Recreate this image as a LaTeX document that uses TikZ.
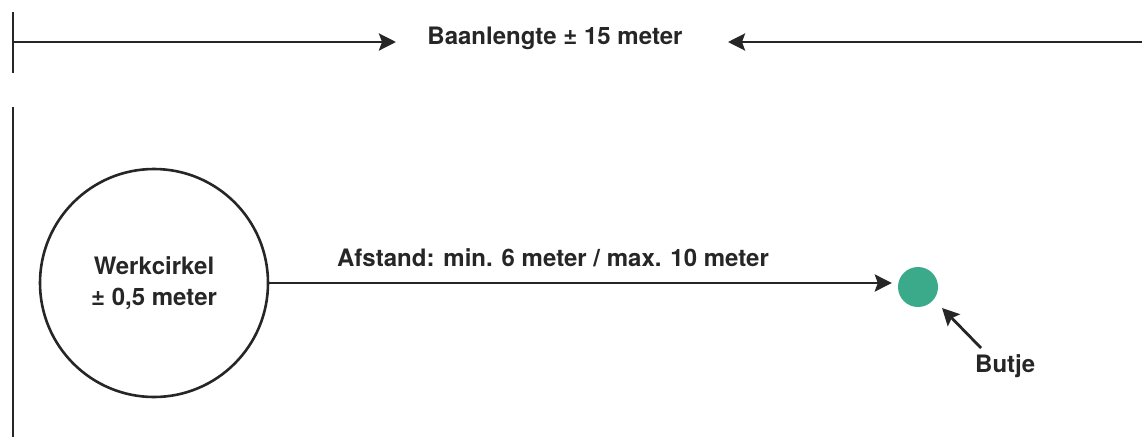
\documentclass[tikz,border=0pt]{standalone}
\usepackage{fontspec}
\setmainfont{TeX Gyre Heros}
\usetikzlibrary{arrows.meta}
\definecolor{butjegreen}{HTML}{3AAA8A}
\tikzset{
  line/.style={line width=2.8pt, draw=black!85},
  arr/.style={line, -{Stealth[length=17pt,width=17pt,inset=3pt]}},
  lbl/.style={font=\bfseries\fontsize{24}{28}\selectfont, text=black!85, inner sep=0pt},
}
\begin{document}
\begin{tikzpicture}[x=1pt,y=-1pt]
\useasboundingbox (0,0) rectangle (1142,437);
% top dimension line
\coordinate (tl) at (13,42);
\coordinate (tr) at (1142,42);
\draw[line] (13,12) -- (13,73);
\node[lbl] (baan) at (555,38) {Baanlengte ± 15 meter};
\draw[arr] (tl) -- (396,42);
\draw[arr] (tr) -- (728,42);
% left boundary
\draw[line] (13,107) -- (13,437);
% circle
\node[draw=black!85, line width=2.6pt, circle, minimum size=228pt, inner sep=0pt, align=center, lbl] (cirkel) at (154,283) {Werkcirkel\\[3pt]± 0,5 meter};
% butje
\node[circle, fill=butjegreen, minimum size=40pt, inner sep=0pt] (butje) at (918,287) {};
\draw[arr] (cirkel.east) -- ([xshift=-6pt]butje.west |- cirkel.east);
\node[lbl] (afst) at (553,258) {Afstand: min. 6 meter / max. 10 meter};
\node[lbl, anchor=west] (butjelbl) at (975,366) {Butje};
\coordinate (bstart) at (981,348);
\draw[arr] (bstart) -- (942,308);
\end{tikzpicture}
\end{document}
